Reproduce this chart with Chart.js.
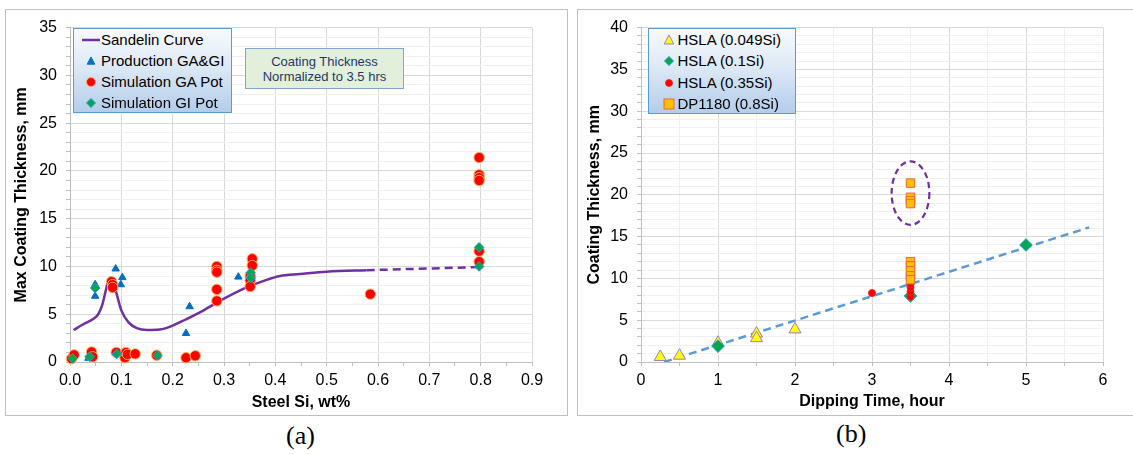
<!DOCTYPE html>
<html>
<head>
<meta charset="utf-8">
<script src="https://cdn.jsdelivr.net/npm/chart.js@4.4.0/dist/chart.umd.min.js"></script>
<style>
  body { margin:0; background:#fff; width:1133px; height:454px; overflow:hidden; position:relative;
         font-family:"Liberation Sans", Arial, sans-serif; }
  .frame { position:absolute; border:1px solid #bfbfbf; box-sizing:border-box; }
  canvas { position:absolute; }
  .legend { position:absolute; box-sizing:border-box; border:1px solid #5b9bd5;
            background:linear-gradient(to bottom, #f7fafd 0%, #dde9f6 45%, #b3cdea 100%); }
  .item { position:absolute; left:0; right:0; height:20px; font-size:15px; line-height:20px; color:#000; white-space:nowrap; }
  .item svg { position:absolute; top:0; }
  .item span { position:absolute; top:0; }
  .note { position:absolute; left:245px; top:48px; width:159px; height:41px; box-sizing:border-box;
          background:#e2efda; border:1px solid #7fa6cf; color:#1f3864; font-size:13px; line-height:15px;
          text-align:center; padding-top:5px; }
  .caption { position:absolute; font-family:"Liberation Serif", "Times New Roman", serif; font-size:26px; line-height:30px; color:#000; }
</style>
</head>
<body>
<div class="frame" style="left:5px;top:9px;width:563px;height:407px"></div>
<div class="frame" style="left:577px;top:9px;width:570px;height:407px"></div>
<canvas id="chart_si" width="563" height="407" style="left:5px;top:9px"></canvas>
<canvas id="chart_time" width="556" height="407" style="left:577px;top:9px"></canvas>
<div class="legend" id="legend_si" style="left:73px;top:28px;width:159px;height:85px"></div>
<div class="note">Coating Thickness<br>Normalized to 3.5 hrs</div>
<div class="legend" id="legend_time" style="left:648px;top:28px;width:148px;height:86px"></div>
<div class="caption" style="left:286px;top:421px">(a)</div>
<div class="caption" style="left:836px;top:419px">(b)</div>
<script>
// (a) max coating thickness vs steel Si
const sandelinSi   = [0.007, 0.026, 0.045, 0.055, 0.063, 0.068, 0.075, 0.079, 0.084, 0.091, 0.100, 0.114, 0.130, 0.150, 0.175, 0.190, 0.227, 0.253, 0.292, 0.344, 0.383, 0.409, 0.448, 0.500, 0.578, 0.806];
const sandelinCoat = [3.35, 3.95, 4.5, 5.0, 6.0, 7.1, 8.6, 8.85, 8.45, 7.1, 5.4, 4.15, 3.55, 3.35, 3.4, 3.6, 4.5, 5.2, 6.4, 7.8, 8.6, 9.0, 9.2, 9.45, 9.6, 9.95];
const sandelinDashFrom = 0.578;

const productionSi   = [0.036, 0.049, 0.049, 0.089, 0.099, 0.102, 0.226, 0.233, 0.328, 0.352, 0.797, 0.797];
const productionCoat = [0.4, 6.9, 8.1, 9.75, 8.1, 8.85, 3.0, 5.8, 8.9, 9.2, 10.1, 12.0];

const gaPotSi   = [0.003, 0.008, 0.042, 0.044, 0.081, 0.083, 0.083, 0.090, 0.107, 0.109, 0.112, 0.127, 0.169, 0.226, 0.244,
                   0.286, 0.286, 0.286, 0.286, 0.286, 0.351, 0.351, 0.351, 0.355, 0.355, 0.585,
                   0.797, 0.797, 0.797, 0.797, 0.797, 0.797];
const gaPotCoat = [0.35, 0.75, 1.05, 0.55, 8.4, 8.1, 7.8, 1.0, 0.45, 1.0, 0.8, 0.85, 0.7, 0.45, 0.65,
                   10.0, 9.6, 9.4, 7.6, 6.4, 9.0, 8.55, 7.9, 10.8, 10.1, 7.1,
                   21.4, 19.6, 19.3, 19.0, 11.6, 10.5];

const giPotSi   = [0.005, 0.038, 0.049, 0.091, 0.170, 0.352, 0.352, 0.797, 0.797];
const giPotCoat = [0.38, 0.55, 7.75, 0.85, 0.7, 9.35, 8.8, 12.0, 10.0];

const namesSi = ['Sandelin Curve', 'Production GA&GI', 'Simulation GA Pot', 'Simulation GI Pot'];

// (b) coating thickness vs dipping time
const hsla049Time = [0.25, 0.5, 1.0, 1.5, 1.5, 2.0];
const hsla049Coat = [0.6, 0.75, 2.3, 3.4, 2.85, 3.9];
const hsla01Time  = [1.0, 3.5, 5.0];
const hsla01Coat  = [1.9, 7.9, 14.0];
const hsla035Time = [3.0, 3.5, 3.5, 3.5, 3.5];
const hsla035Coat = [8.25, 7.8, 8.4, 8.9, 9.3];
const dp1180Time  = [3.5, 3.5, 3.5, 3.5, 3.5, 3.5, 3.5, 3.5, 3.5];
const dp1180Coat  = [21.4, 19.7, 19.3, 18.95, 12.0, 11.5, 10.9, 10.3, 9.85];
const trendTime   = [0.3, 5.82];
const trendCoat   = [0.0, 16.1];

const namesTime = ['HSLA (0.049Si)', 'HSLA (0.1Si)', 'HSLA (0.35Si)', 'DP1180 (0.8Si)'];

Chart.defaults.font.family = '"Liberation Sans", Arial, sans-serif';
Chart.defaults.color = '#000';

const pts = (xs, ys) => xs.map((x, i) => ({x: x, y: ys[i]}));
const isMajor = (v, every) => Math.abs(v / every - Math.round(v / every)) < 1e-6;

function axis(min, max, step, every, title, minorGrid, fmt, titlePad, width, height){
  return {
    type: 'linear', min: min, max: max,
    ticks: {
      stepSize: step, maxTicksLimit: 200, autoSkip: false, maxRotation: 0, minRotation: 0,
      padding: width ? 9 : 5, font: {size: 16}, color: '#000',
      callback: v => isMajor(v, every) ? fmt(v) : ''
    },
    grid: {
      color: c => (c.tick && isMajor(c.tick.value, every)) ? '#d9d9d9' : minorGrid,
      tickColor: '#bfbfbf', tickLength: 4, lineWidth: 1
    },
    border: {color: '#bfbfbf'},
    title: {display: true, text: title, font: {size: 16, weight: 'bold'}, color: '#000', padding: titlePad},
    afterFit: s => { if (width) s.width = width; if (height) s.height = height; }
  };
}

function marker(style, fill, stroke, r, order){
  return {pointStyle: style, backgroundColor: fill, borderColor: stroke, pointBorderWidth: 1,
          pointRadius: r, pointHoverRadius: r, showLine: false, clip: false, order: order};
}

const baseOpts = (pad, xs, ys) => ({
  responsive: false, animation: false,
  layout: {padding: pad},
  plugins: {legend: {display: false}, tooltip: {enabled: false}},
  scales: {x: xs, y: ys}
});

new Chart(document.getElementById('chart_si'), {
  type: 'scatter',
  data: {datasets: [
    {label: namesSi[0], data: pts(sandelinSi, sandelinCoat), showLine: true, pointRadius: 0,
     borderColor: '#7030a0', borderWidth: 2.5, cubicInterpolationMode: 'monotone', order: 4,
     segment: {borderDash: c => c.p0.parsed.x >= sandelinDashFrom - 1e-9 ? [8, 5] : undefined}},
    Object.assign({label: namesSi[1], data: pts(productionSi, productionCoat)}, marker('triangle', '#0070c0', '#0070c0', 4.3, 3)),
    Object.assign({label: namesSi[2], data: pts(gaPotSi, gaPotCoat)}, marker('circle', '#ff0000', '#ffb050', 5.2, 2)),
    Object.assign({label: namesSi[3], data: pts(giPotSi, giPotCoat)}, marker('rectRot', '#00a651', '#2e9ad0', 4.8, 1))
  ]},
  options: baseOpts({left: 0, top: 14, right: 36, bottom: 0},
    axis(0, 0.9, 0.05, 0.1, 'Steel Si, wt%', 'rgba(0,0,0,0)', v => v.toFixed(1), {top: 0, bottom: 4}, 0, 54),
    axis(0, 35, 1, 5, 'Max Coating Thickness, mm', '#f0f0f0', v => String(v), {top: 7, bottom: 0}, 65, 0))
});

// dashed ellipse around the DP1180 high values
const ringTime = 3.5, ringCoat = 20.2, ringHalfTime = 0.245, ringHalfCoat = 3.8;
const ringPlugin = {
  id: 'ring',
  afterDatasetsDraw(chart){
    const {ctx, scales: {x, y}} = chart;
    const cx = x.getPixelForValue(ringTime), cy = y.getPixelForValue(ringCoat);
    const rx = x.getPixelForValue(ringTime + ringHalfTime) - cx;
    const ry = cy - y.getPixelForValue(ringCoat + ringHalfCoat);
    ctx.save();
    ctx.strokeStyle = '#7030a0'; ctx.lineWidth = 2.2; ctx.setLineDash([6, 4]);
    ctx.beginPath(); ctx.ellipse(cx, cy, rx, ry, 0, 0, Math.PI * 2); ctx.stroke();
    ctx.restore();
  }
};

new Chart(document.getElementById('chart_time'), {
  type: 'scatter',
  data: {datasets: [
    {label: 'trend', data: pts(trendTime, trendCoat), showLine: true, pointRadius: 0,
     borderColor: '#5b9bd5', borderWidth: 2.5, borderDash: [8, 5], order: 5},
    Object.assign({label: namesTime[0], data: pts(hsla049Time, hsla049Coat)}, marker('triangle', '#ffff00', '#a07acc', 7, 4)),
    Object.assign({label: namesTime[1], data: pts(hsla01Time, hsla01Coat)}, marker('rectRot', '#00a651', '#1fa0c0', 6.3, 3)),
    Object.assign({label: namesTime[2], data: pts(hsla035Time, hsla035Coat)}, marker('circle', '#ff0000', '#ff2020', 3.5, 2)),
    Object.assign({label: namesTime[3], data: pts(dp1180Time, dp1180Coat)}, marker('rect', '#ffc000', '#f0643c', 6, 1))
  ]},
  options: baseOpts({left: 0, top: 14, right: 30, bottom: 0},
    axis(0, 6, 0.5, 1, 'Dipping Time, hour', '#f0f0f0', v => String(v), {top: 0, bottom: 5}, 0, 54),
    axis(0, 40, 1, 5, 'Coating Thickness, mm', '#f0f0f0', v => String(v), {top: 8, bottom: 0}, 64, 0)),
  plugins: [ringPlugin]
});

// legends
function svgMark(kind, fill, stroke, size){
  const c = 10, h = size / 2;
  let shape = '';
  if (kind === 'line') shape = `<line x1="1" y1="${c}" x2="19" y2="${c}" stroke="${stroke}" stroke-width="2.5"/>`;
  if (kind === 'triangle') shape = `<polygon points="${c},${c - h} ${c + h * 0.95},${c + h * 0.8} ${c - h * 0.95},${c + h * 0.8}" fill="${fill}" stroke="${stroke}"/>`;
  if (kind === 'circle') shape = `<circle cx="${c}" cy="${c}" r="${h}" fill="${fill}" stroke="${stroke}" stroke-width="0.8"/>`;
  if (kind === 'diamond') shape = `<polygon points="${c},${c - h} ${c + h},${c} ${c},${c + h} ${c - h},${c}" fill="${fill}" stroke="${stroke}"/>`;
  if (kind === 'square') shape = `<rect x="${c - h}" y="${c - h}" width="${size}" height="${size}" fill="${fill}" stroke="${stroke}"/>`;
  return `<svg width="20" height="20" viewBox="0 0 20 20">${shape}</svg>`;
}

function buildLegend(id, names, marks, markLeft, textLeft, step){
  const box = document.getElementById(id);
  names.forEach((n, i) => {
    const m = marks[i];
    const el = document.createElement('div');
    el.className = 'item';
    el.style.top = (1 + step * i) + 'px';
    el.innerHTML = `<span style="left:${markLeft}px">${svgMark(m[0], m[1], m[2], m[3])}</span><span style="left:${textLeft}px"></span>`;
    el.lastChild.textContent = n;
    box.appendChild(el);
  });
}

buildLegend('legend_si', namesSi, [
  ['line', 'none', '#7030a0', 0],
  ['triangle', '#0070c0', '#0070c0', 8],
  ['circle', '#ff0000', '#ffb050', 9],
  ['diamond', '#00a651', '#2e9ad0', 9]
], 7, 27, 21);

buildLegend('legend_time', namesTime, [
  ['triangle', '#ffff00', '#a07acc', 10],
  ['diamond', '#00a651', '#1fa0c0', 9],
  ['circle', '#ff0000', '#ff2020', 7],
  ['square', '#ffc000', '#f0643c', 10]
], 10, 28.5, 21.3);
</script>
</body>
</html>
